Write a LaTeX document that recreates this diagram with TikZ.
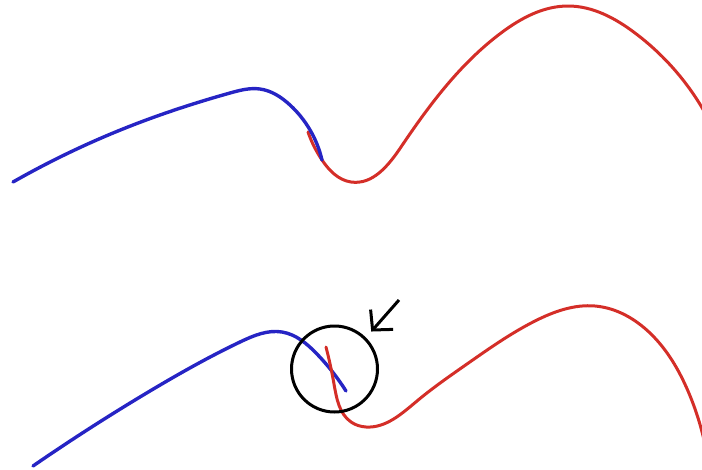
\documentclass[tikz,border=0pt]{standalone}
\usepackage{xcolor}
\usepackage{tikz}
\usetikzlibrary{arrows.meta,hobby}
\definecolor{curveblue}{RGB}{38,36,196}
\definecolor{curvered}{RGB}{212,46,40}

\begin{document}
\begin{tikzpicture}[
x=1pt, y=-1pt,
bluecurve/.style={draw=curveblue, line width=3.4pt, line cap=round, line join=round, use Hobby shortcut},
redcurve/.style={draw=curvered, line width=3pt, line cap=round, line join=round, use Hobby shortcut},
ring/.style={draw, circle, line width=3pt, minimum size=86pt, inner sep=0pt},
pointer/.style={-{Straight Barb[length=14pt,width=30pt]}, line width=3pt, shorten >=8pt}
]
\clip (0,0) rectangle (702,469);

\draw[redcurve] (308,132) .. (322,160) .. (351,182) .. (401,147) .. (501,33) .. (568,6) .. (635,33) .. (704,111);
\draw[bluecurve] (13,182) .. (133,125) .. (230,93) .. (260,89) .. (290,105) .. (322,160);

\draw[bluecurve] (33,466) .. (150,391) .. (240,342) .. (282,332) .. (317,354) .. (346,391);
\draw[redcurve] (326,347) .. (334,384) .. (351,422) .. (366,427) .. (417,401) .. (467,364) .. (535,321) .. (595,306) .. (651,334) .. (688,391) .. (704,440);

\node[ring] (ring) at (334.5,369) {};
\coordinate (tail) at (399,300);
\draw[pointer] (tail) -- (ring.45);
\end{tikzpicture}
\end{document}
